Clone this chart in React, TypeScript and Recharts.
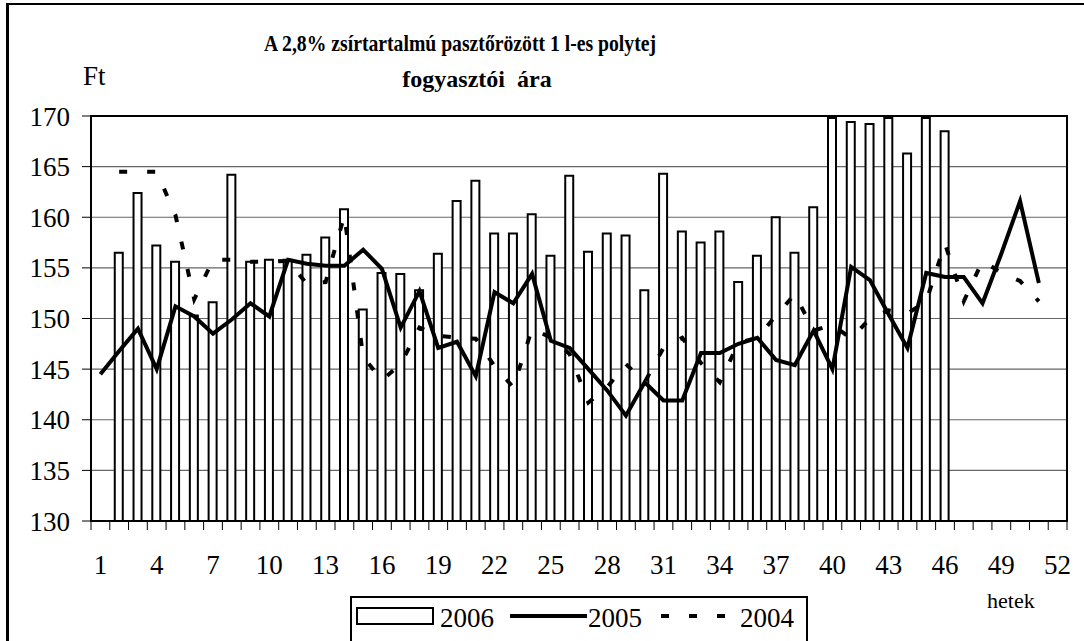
import React from 'react';
import { ComposedChart, Bar, Line, XAxis, YAxis, CartesianGrid, Legend, ReferenceArea } from 'recharts';

// hetek (weeks) 1..52
const weeks = [
  1, 2, 3, 4, 5, 6, 7, 8, 9, 10, 11, 12, 13, 14, 15, 16, 17, 18, 19, 20, 21, 22, 23, 24, 25, 26,
  27, 28, 29, 30, 31, 32, 33, 34, 35, 36, 37, 38, 39, 40, 41, 42, 43, 44, 45, 46, 47, 48, 49, 50, 51, 52,
];

const price2006 = [
  null, 156.5, 162.4, 157.2, 155.6, 150.3, 151.6, 164.2, 155.6, 155.8, 155.8, 156.3, 158.0, 160.8, 150.9, 154.5,
  154.4, 152.8, 156.4, 161.6, 163.6, 158.4, 158.4, 160.3, 156.2, 164.1, 156.6, 158.4, 158.2, 152.8, 164.3, 158.6,
  157.5, 158.6, 153.6, 156.2, 160.0, 156.5, 161.0, 169.8, 169.4, 169.2, 169.8, 166.3, 169.8, 168.5,
  null, null, null, null, null, null,
];

const price2005 = [
  144.5, 146.8, 149.0, 145.0, 151.2, 150.2, 148.5, 149.9, 151.5, 150.2, 155.8, 155.4, 155.2, 155.2, 156.8, 154.9,
  149.1, 152.7, 147.1, 147.7, 144.3, 152.6, 151.5, 154.4, 147.8, 147.1, 145.0, 142.9, 140.4, 143.7, 141.9, 141.9,
  146.6, 146.6, 147.5, 148.1, 145.9, 145.4, 148.8, 145.0, 155.1, 153.8, 150.4, 147.1, 154.5, 154.1, 154.1, 151.5,
  156.4, 161.6, 153.5, null,
];

const price2004 = [
  null, 164.5, 164.5, 164.5, 160.2, 151.9, 155.8, 155.8, 155.6, 155.6, 155.7, 153.4, 153.6, 160.2, 146.2, 143.9,
  145.5, 149.1, 148.3, 148.1, 148.0, 145.3, 143.2, 149.0, 148.1, 146.5, 141.7, 143.2, 145.5, 143.7, 147.1, 148.1,
  145.6, 143.7, 147.6, 148.1, 150.3, 152.4, 148.8, 149.4, 148.0, 150.0, 150.8, 150.5, 151.7, 157.4, 151.7, 155.7,
  154.5, 153.7, 151.7, null,
];

const yTicks = [130, 135, 140, 145, 150, 155, 160, 165, 170];
const xLabels = [1, 4, 7, 10, 13, 16, 19, 22, 25, 28, 31, 34, 37, 40, 43, 46, 49, 52];

const data = weeks.map((w, i) => ({
  week: w,
  y2006: price2006[i],
  y2005: price2005[i],
  y2004: price2004[i],
}));

const FONT = '"Liberation Serif", "Times New Roman", serif';

const WeekTick = (props: any) => {
  const { x, y, payload, index } = props;
  const half = payload.offset ?? 0;
  return (
    <g>
      <line x1={x - half} x2={x - half} y1={y} y2={y + 9} stroke="#000" strokeWidth={1} />
      {index === weeks.length - 1 && (
        <line x1={x + half} x2={x + half} y1={y} y2={y + 9} stroke="#000" strokeWidth={1} />
      )}
      {xLabels.includes(payload.value) && (
        <text x={x} y={y + 53} textAnchor="middle" fontFamily={FONT} fontSize={27} fill="#000">
          {payload.value}
        </text>
      )}
    </g>
  );
};

const LegendBox = () => (
  <div style={{ border: '2px solid #000', height: 60, background: '#fff', boxSizing: 'border-box' }}>
    <svg width={454} height={56}>
      <rect x={5} y={10} width={76} height={16} fill="#fff" stroke="#000" strokeWidth={2} />
      <text x={88} y={29} fontFamily={FONT} fontSize={27}>2006</text>
      <line x1={158} x2={235} y1={18} y2={18} stroke="#000" strokeWidth={4} />
      <text x={236} y={29} fontFamily={FONT} fontSize={27}>2005</text>
      <line x1={309} x2={375} y1={18} y2={18} stroke="#000" strokeWidth={4} strokeDasharray="8 20" />
      <text x={388} y={29} fontFamily={FONT} fontSize={27}>2004</text>
    </svg>
  </div>
);

export default function App() {
  return (
    <div style={{ position: 'absolute', left: 0, top: 0, width: 1084, height: 641, overflow: 'hidden', background: '#fff' }}>
      <div
        style={{
          position: 'absolute',
          left: 6,
          top: 3,
          width: 1200,
          height: 800,
          borderLeft: '3px solid #000',
          borderTop: '2px solid #000',
        }}
      />
      <svg width={1084} height={641} style={{ position: 'absolute', left: 0, top: 0 }}>
        <text
          x={264}
          y={51}
          fontFamily={FONT}
          fontWeight="bold"
          fontSize={24}
          textLength={392}
          lengthAdjust="spacingAndGlyphs"
        >
          A 2,8% zsírtartalmú pasztőrözött 1 l-es polytej
        </text>
        <text x={477} y={87} textAnchor="middle" fontFamily={FONT} fontWeight="bold" fontSize={24} xmlSpace="preserve">
          fogyasztói  ára
        </text>
        <text x={83} y={85} fontFamily={FONT} fontSize={27}>Ft</text>
        <text x={987} y={608} fontFamily={FONT} fontSize={22}>hetek</text>
      </svg>
      <div style={{ position: 'absolute', left: 0, top: 0 }}>
        <ComposedChart
          width={1084}
          height={641}
          data={data}
          barGap={0}
          margin={{ top: 116, right: 17, bottom: 90, left: 0 }}
        >
          <CartesianGrid vertical={false} stroke="#666" strokeWidth={1.2} />
          <XAxis
            dataKey="week"
            type="category"
            interval={0}
            height={30}
            tickSize={0}
            tickMargin={0}
            tickLine={false}
            axisLine={{ stroke: '#000', strokeWidth: 2 }}
            tick={<WeekTick />}
          />
          <YAxis
            domain={[130, 170]}
            ticks={yTicks}
            width={91}
            interval={0}
            allowDataOverflow
            tickSize={9}
            tickMargin={12}
            tickLine={{ stroke: '#000' }}
            axisLine={{ stroke: '#000', strokeWidth: 2 }}
            tick={{ fontFamily: FONT, fontSize: 27, fill: '#000' }}
          />
          <Bar
            dataKey="y2006"
            name="2006"
            fill="#fff"
            stroke="#000"
            strokeWidth={2}
            barSize={8}
            isAnimationActive={false}
          />
          <Line
            dataKey="y2005"
            name="2005"
            type="linear"
            stroke="#000"
            strokeWidth={4}
            dot={false}
            activeDot={false}
            isAnimationActive={false}
          />
          <Line
            dataKey="y2004"
            name="2004"
            type="linear"
            stroke="#000"
            strokeWidth={4}
            strokeDasharray="8 20"
            dot={false}
            activeDot={false}
            isAnimationActive={false}
          />
          <ReferenceArea
            x1={1}
            x2={52}
            y1={130}
            y2={170}
            fill="none"
            fillOpacity={0}
            stroke="#000"
            strokeWidth={2}
            ifOverflow="visible"
          />
          <Legend
            layout="horizontal"
            verticalAlign="middle"
            align="center"
            content={<LegendBox />}
            wrapperStyle={{ left: 350, top: 596, width: 458, height: 60 }}
          />
        </ComposedChart>
      </div>
    </div>
  );
}
